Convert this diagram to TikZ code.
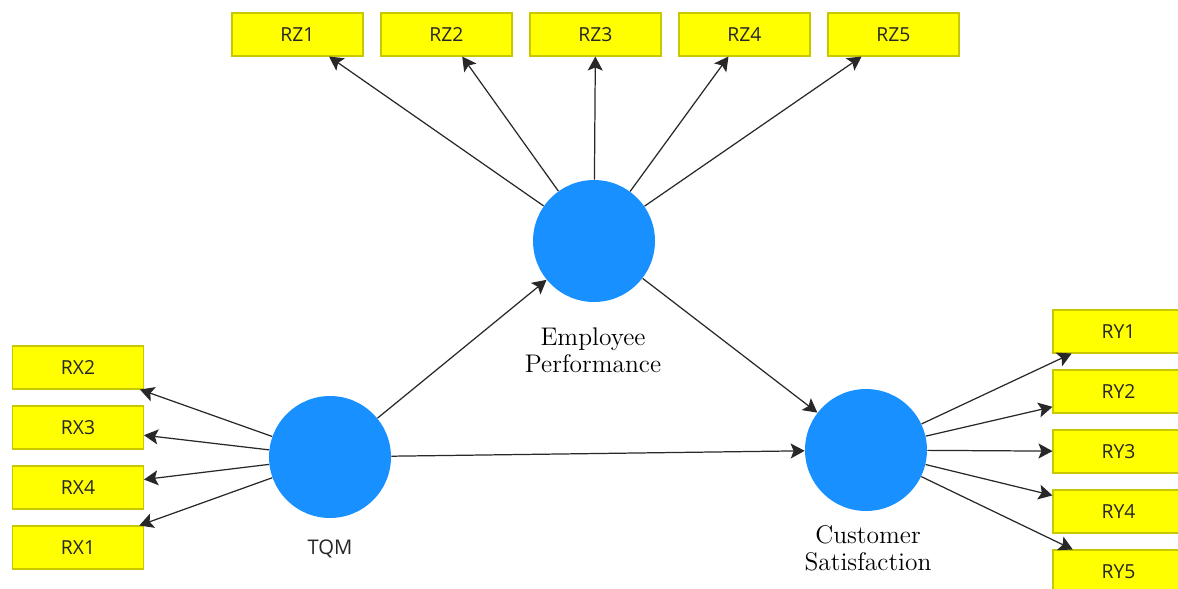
\documentclass[tikz,border=0pt]{standalone}
\usepackage{fontspec}
\setsansfont{Open Sans}
\usetikzlibrary{arrows.meta}

\definecolor{latentblue}{RGB}{24,144,255}
\definecolor{itemyellow}{RGB}{255,255,0}
\definecolor{itemedge}{RGB}{200,200,0}
\definecolor{linkgray}{RGB}{40,40,40}

\begin{document}
\begin{tikzpicture}[x=0.02cm, y=-0.02cm,
  latent/.style={circle, fill=latentblue, minimum size=2.44cm, inner sep=0pt},
  item/.style={rectangle, fill=itemyellow, draw=itemedge, line width=0.6pt,
    minimum width=2.62cm, minimum height=0.86cm, inner sep=0pt,
    font=\sffamily\fontsize{11}{13}\selectfont, text=black!85},
  link/.style={draw=linkgray, line width=0.7pt,
    -{Stealth[length=0.28cm, width=0.3cm, inset=0.06cm]}},
  conlabel/.style={align=center, fill=white, inner sep=3pt,
    font=\fontsize{14.5}{15.5}\selectfont}]

  \useasboundingbox (0,0) rectangle (1178,589);

  % Latent constructs
  \node[latent] (EP)  at (594,241) {};
  \node[latent] (TQM) at (330,457) {};
  \node[latent] (CS)  at (866,450) {};

  % Indicators of Employee Performance
  \node[item] (RZ1) at (297.5,34.5) {RZ1};
  \node[item] (RZ2) at (446.5,34.5) {RZ2};
  \node[item] (RZ3) at (595.5,34.5) {RZ3};
  \node[item] (RZ4) at (744.5,34.5) {RZ4};
  \node[item] (RZ5) at (893.5,34.5) {RZ5};

  % Indicators of TQM
  \node[item] (RX2) at (78,367.5) {RX2};
  \node[item] (RX3) at (78,427.5) {RX3};
  \node[item] (RX4) at (78,487.5) {RX4};
  \node[item] (RX1) at (78,547.5) {RX1};

  % Indicators of Customer Satisfaction (cut by the right edge)
  \node[item] (RY1) at (1118.5,331.5) {RY1};
  \node[item] (RY2) at (1118.5,391.5) {RY2};
  \node[item] (RY3) at (1118.5,451.5) {RY3};
  \node[item] (RY4) at (1118.5,511.5) {RY4};
  \node[item] (RY5) at (1118.5,571.5) {RY5};

  % Outer loadings
  \foreach \k in {1,...,5} {\draw[link] (EP) -- (RZ\k);}
  \foreach \k in {1,...,4} {\draw[link] (TQM) -- (RX\k);}
  \foreach \k in {1,...,5} {\draw[link] (CS) -- (RY\k);}

  % Structural paths
  \draw[link] (TQM) -- (EP);
  \draw[link] (TQM) -- (CS);
  \draw[link] (EP) -- (CS);

  % Construct names
  \node[font=\sffamily\fontsize{11.5}{13}\selectfont, text=black!85] (TQMlabel) at (330,549) {TQM};
  \node[conlabel, inner xsep=0.5cm] (EPlabel) at (593,350) {Employee\\Performance};
  \node[conlabel] (CSlabel) at (868,548) {Customer\\Satisfaction};

\end{tikzpicture}
\end{document}
